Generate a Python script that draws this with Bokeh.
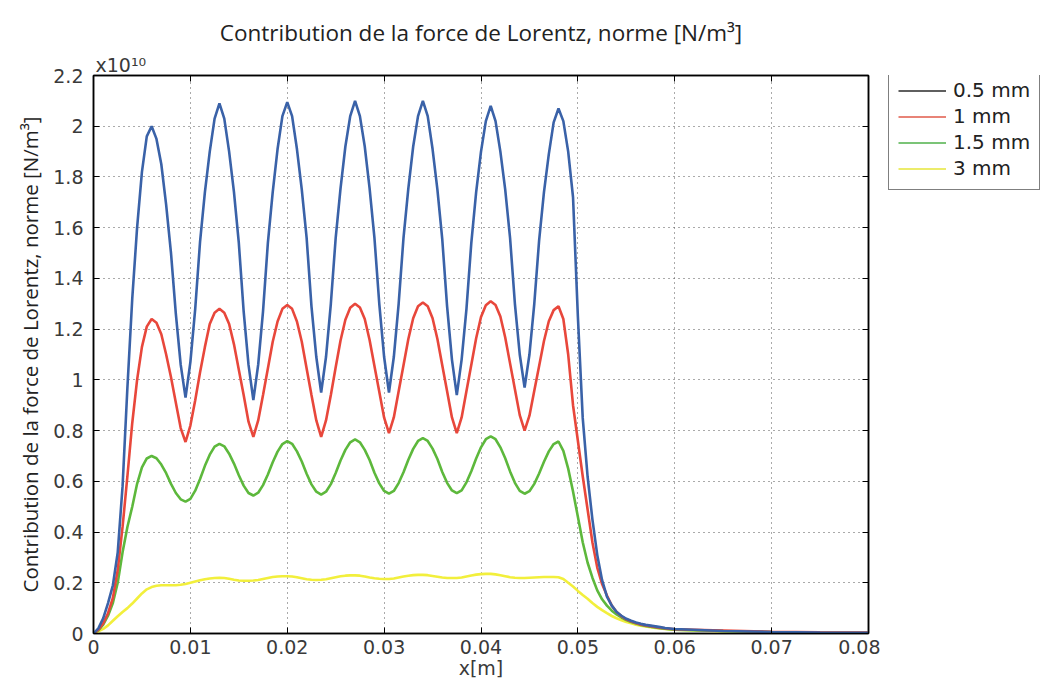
from bokeh.plotting import figure
from bokeh.layouts import row
from bokeh.models import (ColumnDataSource, Legend, LegendItem, LinearAxis, FixedTicker,
                          Title, Range1d)
from bokeh.embed import file_html
from bokeh.resources import INLINE

# ---- data (x in mm, y in units of 1e10 N/m^3) ----
x_mm = [0, 0.5, 1, 1.5, 2, 2.5, 3, 3.5, 4, 4.5, 5, 5.5, 6, 6.5, 7, 7.5, 8, 8.5, 9, 9.5,
        10, 10.5, 11, 11.5, 12, 12.5, 13, 13.5, 14, 14.5, 15, 15.5, 16, 16.5, 17, 17.5,
        18, 18.5, 19, 19.5, 20, 20.5, 21, 21.5, 22, 22.5, 23, 23.5, 24, 24.5, 25, 25.5,
        26, 26.5, 27, 27.5, 28, 28.5, 29, 29.5, 30, 30.5, 31, 31.5, 32, 32.5, 33, 33.5,
        34, 34.5, 35, 35.5, 36, 36.5, 37, 37.5, 38, 38.5, 39, 39.5, 40, 40.5, 41, 41.5,
        42, 42.5, 43, 43.5, 44, 44.5, 45, 45.5, 46, 46.5, 47, 47.5, 48, 48.5, 49, 49.5,
        50, 50.5, 51, 51.5, 52, 52.5, 53, 53.5, 54, 54.5, 55, 55.5, 56, 56.5, 57, 57.5,
        58, 58.5, 59, 59.5, 60, 65, 70, 75, 80]

f_05mm = [0, 0.02, 0.06, 0.12, 0.19, 0.32, 0.58, 0.97, 1.32, 1.60, 1.82, 1.96, 2.00,
          1.95, 1.85, 1.69, 1.50, 1.26, 1.06, 0.93,
          1.07, 1.28, 1.545, 1.74, 1.90, 2.03, 2.09,
          2.03, 1.90, 1.74, 1.54, 1.27, 1.06, 0.92,
          1.06, 1.27, 1.54, 1.74, 1.91, 2.04, 2.095,
          2.04, 1.91, 1.75, 1.56, 1.29, 1.09, 0.95,
          1.09, 1.30, 1.56, 1.755, 1.92, 2.04, 2.10,
          2.04, 1.92, 1.755, 1.56, 1.30, 1.09, 0.95,
          1.09, 1.30, 1.56, 1.755, 1.92, 2.04, 2.10,
          2.04, 1.91, 1.75, 1.555, 1.29, 1.08, 0.94,
          1.08, 1.28, 1.54, 1.74, 1.90, 2.02, 2.08,
          2.02, 1.90, 1.75, 1.56, 1.30, 1.10, 0.97,
          1.10, 1.30, 1.55, 1.74, 1.89, 2.015, 2.07,
          2.02, 1.90, 1.72, 1.25, 0.85, 0.62, 0.45, 0.31, 0.21, 0.145, 0.11, 0.085,
          0.07, 0.058, 0.05, 0.043, 0.038, 0.034, 0.031, 0.028, 0.025, 0.022, 0.02, 0.018,
          0.01, 0.006, 0.004, 0.003]

f_1mm = [0, 0.015, 0.04, 0.08, 0.14, 0.25, 0.42, 0.62, 0.83, 1.00, 1.13, 1.21, 1.24,
         1.225, 1.18, 1.10, 1.01, 0.91, 0.81, 0.755,
         0.82, 0.92, 1.03, 1.13, 1.22, 1.265, 1.28,
         1.265, 1.22, 1.14, 1.04, 0.94, 0.835, 0.775,
         0.84, 0.94, 1.045, 1.15, 1.23, 1.28, 1.295,
         1.28, 1.23, 1.15, 1.045, 0.94, 0.84, 0.775,
         0.84, 0.94, 1.05, 1.155, 1.237, 1.284, 1.30,
         1.285, 1.24, 1.157, 1.055, 0.953, 0.851, 0.79,
         0.852, 0.955, 1.058, 1.161, 1.243, 1.29, 1.305,
         1.29, 1.243, 1.161, 1.058, 0.955, 0.852, 0.79,
         0.852, 0.956, 1.06, 1.164, 1.248, 1.294, 1.31,
         1.295, 1.25, 1.167, 1.065, 0.963, 0.861, 0.80,
         0.859, 0.957, 1.055, 1.153, 1.231, 1.275, 1.29,
         1.24, 1.10, 0.90, 0.76, 0.62, 0.49, 0.36, 0.26, 0.195, 0.15, 0.11, 0.085,
         0.068, 0.056, 0.048, 0.041, 0.036, 0.032, 0.029, 0.026, 0.023, 0.021, 0.019, 0.017,
         0.012, 0.007, 0.005, 0.004]

f_15mm = [0, 0.012, 0.035, 0.07, 0.12, 0.2, 0.32, 0.42, 0.50, 0.59, 0.655, 0.69, 0.70,
          0.691, 0.666, 0.632, 0.59, 0.554, 0.529, 0.52,
          0.531, 0.563, 0.609, 0.661, 0.705, 0.737, 0.748,
          0.738, 0.709, 0.67, 0.624, 0.583, 0.554, 0.544,
          0.555, 0.585, 0.627, 0.675, 0.717, 0.747, 0.758,
          0.748, 0.718, 0.678, 0.63, 0.588, 0.559, 0.548,
          0.559, 0.589, 0.633, 0.682, 0.724, 0.754, 0.765,
          0.754, 0.724, 0.684, 0.634, 0.592, 0.562, 0.551,
          0.562, 0.593, 0.636, 0.685, 0.728, 0.759, 0.77,
          0.759, 0.729, 0.688, 0.637, 0.594, 0.564, 0.553,
          0.564, 0.596, 0.640, 0.690, 0.734, 0.766, 0.777,
          0.766, 0.734, 0.691, 0.639, 0.594, 0.562, 0.551,
          0.561, 0.59, 0.631, 0.677, 0.718, 0.747, 0.757,
          0.72, 0.65, 0.56, 0.46, 0.36, 0.28, 0.22, 0.17, 0.135, 0.11, 0.09, 0.075,
          0.063, 0.053, 0.045, 0.039, 0.034, 0.03, 0.027, 0.024, 0.021, 0.019, 0.017, 0.015,
          0.01, 0.006, 0.004, 0.003]

f_3mm = [0, 0.008, 0.018, 0.032, 0.05, 0.068, 0.085, 0.10, 0.118, 0.138, 0.158, 0.174, 0.183,
         0.188, 0.19, 0.19, 0.19, 0.19, 0.192, 0.195,
         0.2, 0.205, 0.21, 0.214, 0.217, 0.219, 0.22,
         0.219, 0.216, 0.212, 0.209, 0.208, 0.208, 0.209,
         0.211, 0.215, 0.219, 0.223, 0.225, 0.226, 0.226,
         0.225, 0.222, 0.218, 0.214, 0.212, 0.211, 0.212,
         0.214, 0.218, 0.222, 0.226, 0.228, 0.229, 0.229,
         0.228, 0.225, 0.221, 0.218, 0.216, 0.215, 0.215,
         0.217, 0.221, 0.225, 0.228, 0.23, 0.231, 0.231,
         0.23, 0.227, 0.224, 0.221, 0.219, 0.219, 0.219,
         0.221, 0.225, 0.229, 0.232, 0.234, 0.235, 0.235,
         0.233, 0.23, 0.226, 0.222, 0.22, 0.219, 0.219,
         0.22, 0.221, 0.222, 0.223, 0.223, 0.223, 0.222,
         0.215, 0.20, 0.185, 0.168, 0.152, 0.137, 0.12, 0.105, 0.092, 0.08, 0.069, 0.06,
         0.052, 0.045, 0.04, 0.035, 0.031, 0.028, 0.025, 0.022, 0.02, 0.018, 0.016, 0.015,
         0.008, 0.005, 0.003, 0.002]

series_names = ["0.5 mm", "1 mm", "1.5 mm", "3 mm"]
series_values = [f_05mm, f_1mm, f_15mm, f_3mm]

x_ticks = [0, 0.01, 0.02, 0.03, 0.04, 0.05, 0.06, 0.07, 0.08]
x_tick_labels = ["0", "0.01", "0.02", "0.03", "0.04", "0.05", "0.06", "0.07", "0.08"]
y_ticks = [0, 0.2, 0.4, 0.6, 0.8, 1.0, 1.2, 1.4, 1.6, 1.8, 2.0, 2.2]
y_tick_labels = ["0", "0.2", "0.4", "0.6", "0.8", "1", "1.2", "1.4", "1.6", "1.8", "2", "2.2"]

title_text = "Contribution de la force de Lorentz, norme [N/m\u00b3]"
y_label = "Contribution de la force de Lorentz, norme [N/m\u00b3]"
x_label = "x[m]"
multiplier_text = "x10\u00b9\u2070"

for s in series_values:
    if len(s) != len(x_mm):
        raise ValueError("length mismatch %d vs %d" % (len(s), len(x_mm)))

# ---- styling ----
line_colors = ["#3a62a8", "#e8473b", "#5db83c", "#f2ef3c"]
legend_colors = ["#2a2a2a", "#e05a4a", "#4fb04a", "#e6e63a"]
TICK_FONT = "DejaVu Sans"
TEXT_FONT = "Open Sans"

H = 684
p = figure(width=880, height=H, output_backend="svg", toolbar_location=None,
           x_range=Range1d(0, 0.08), y_range=Range1d(0, 2.2),
           min_border_left=93, min_border_right=12, min_border_top=75, min_border_bottom=51,
           title=None)
p.background_fill_color = "white"
p.border_fill_color = "white"
p.outline_line_color = "black"
p.outline_line_width = 1.5

x = [v / 1000.0 for v in x_mm]
src = ColumnDataSource(dict(x=x, s0=f_05mm, s1=f_1mm, s2=f_15mm, s3=f_3mm))

for k in [3, 2, 1, 0]:
    p.line("x", "s%d" % k, source=src, line_color=line_colors[k], line_width=2.6)

# axes
for ax in (p.xaxis[0], p.yaxis[0]):
    ax.major_tick_in = 6
    ax.major_tick_out = 0
    ax.minor_tick_in = 0
    ax.minor_tick_out = 0
    ax.axis_line_color = "black"
    ax.axis_line_width = 1.5
    ax.major_label_text_font = TICK_FONT
    ax.major_label_text_font_size = "19px"
    ax.major_label_text_color = "#3a3a3a"
    ax.axis_label_text_font = TICK_FONT
    ax.axis_label_text_font_size = "19px"
    ax.axis_label_text_font_style = "normal"
    ax.axis_label_text_color = "#3a3a3a"

p.xaxis[0].ticker = FixedTicker(ticks=x_ticks)
p.xaxis[0].major_label_overrides = {t: l for t, l in zip(x_ticks, x_tick_labels)}
p.xaxis[0].axis_label = x_label
p.xaxis[0].major_label_standoff = 6
p.xaxis[0].axis_label_standoff = 0
p.yaxis[0].ticker = FixedTicker(ticks=y_ticks)
p.yaxis[0].major_label_overrides = {t: l for t, l in zip(y_ticks, y_tick_labels)}
p.yaxis[0].axis_label = y_label
p.yaxis[0].axis_label_text_font = TEXT_FONT
p.yaxis[0].axis_label_text_font_size = "20.5px"
p.yaxis[0].axis_label_text_color = "#222222"
p.yaxis[0].major_label_standoff = 10
p.yaxis[0].axis_label_standoff = 6

# mirror axes on top and right (ticks only)
top = LinearAxis(ticker=FixedTicker(ticks=x_ticks),
                 major_label_overrides={t: "" for t in x_ticks},
                 major_label_standoff=0,
                 major_tick_in=6, major_tick_out=0, minor_tick_in=0, minor_tick_out=0,
                 axis_line_color="black", axis_line_width=1.5)
right = LinearAxis(ticker=FixedTicker(ticks=y_ticks),
                   major_label_overrides={t: "" for t in y_ticks},
                   major_label_standoff=0,
                   major_tick_in=6, major_tick_out=0, minor_tick_in=0, minor_tick_out=0,
                   axis_line_color="black", axis_line_width=1.5)
p.add_layout(top, "above")
p.add_layout(right, "right")

# multiplier just above the frame, then the main title
p.add_layout(Title(text=multiplier_text, align="left", offset=2, standoff=0,
                   text_font=TICK_FONT, text_font_size="19px", text_font_style="normal",
                   text_color="#3a3a3a"), "above")
p.add_layout(Title(text=title_text, align="center", standoff=8,
                   text_font=TEXT_FONT, text_font_size="22.5px", text_font_style="normal",
                   text_color="#222222"), "above")

p.grid.grid_line_color = "#555555"
p.grid.grid_line_dash = "1 4"
p.grid.grid_line_width = 1
p.xgrid.ticker = FixedTicker(ticks=x_ticks)
p.ygrid.ticker = FixedTicker(ticks=y_ticks)

# ---- legend panel (separate small figure to the right; its frame aligns with the main one) ----
lg = figure(width=160, height=H, output_backend="svg", toolbar_location=None,
            x_range=Range1d(1, 2), y_range=Range1d(10, 11),
            x_axis_location=None, y_axis_location=None,
            min_border_left=0, min_border_right=0, min_border_top=0, min_border_bottom=0)
lg.outline_line_color = None
lg.grid.visible = False
lg.background_fill_color = "white"
lg.border_fill_color = "white"

items = []
for k in range(4):
    r = lg.line("x", "s%d" % k, source=src, line_color=legend_colors[k], line_width=1.3)
    items.append(LegendItem(label=series_names[k], renderers=[r]))

FRAME_H = 633 - 75
legend = Legend(items=items, location=(8, FRAME_H - 115))
legend.border_line_color = "black"
legend.border_line_width = 1.2
legend.background_fill_alpha = 1
legend.label_text_font = TICK_FONT
legend.label_text_font_size = "20px"
legend.label_text_color = "#222222"
legend.glyph_width = 48
legend.glyph_height = 21
legend.label_height = 21
legend.spacing = 2
legend.padding = 9
legend.margin = 0
legend.label_standoff = 7
lg.add_layout(legend)

layout = row(p, lg, spacing=0)
open("out.html", "w").write(file_html(layout, INLINE))
